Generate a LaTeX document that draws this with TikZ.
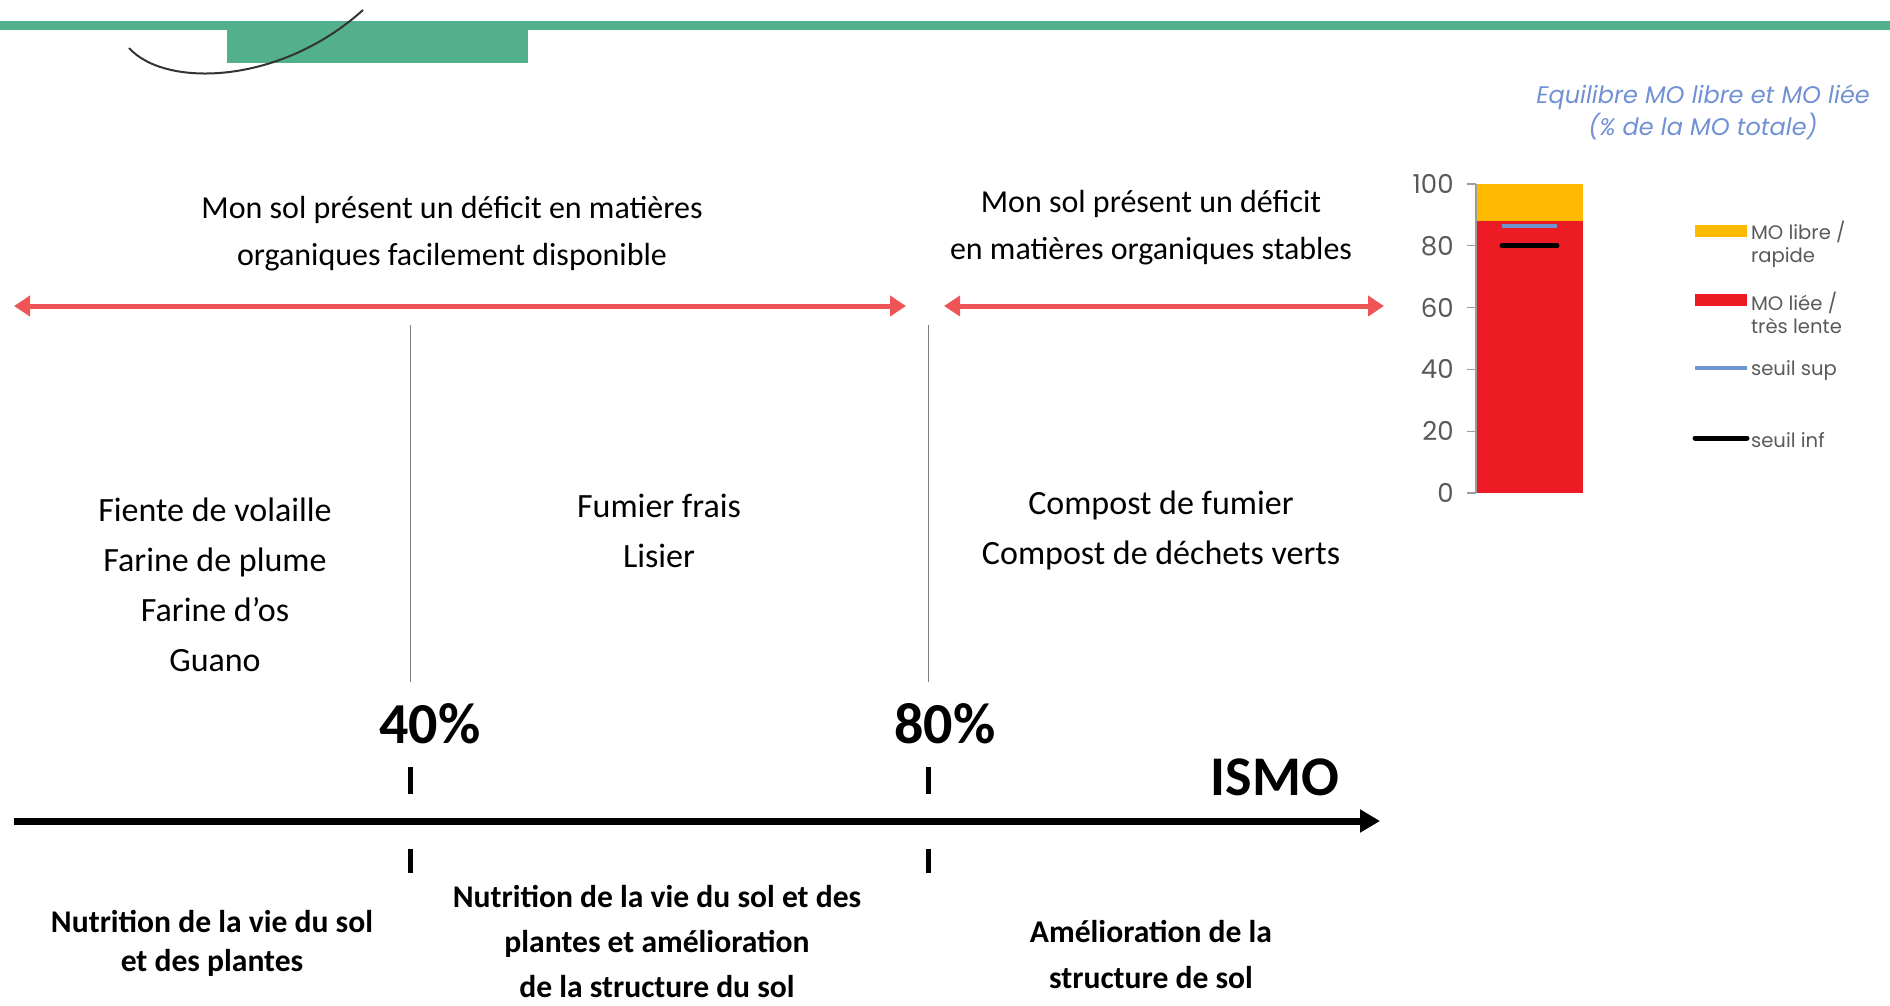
\documentclass[tikz,border=0pt]{standalone}
\usepackage{fontspec}
\setmainfont{Carlito}
\newfontfamily\chartfont{Poppins}
\usepackage{xcolor}
\usepackage{tikz}
\usetikzlibrary{arrows.meta}

\definecolor{bandgreen}{HTML}{52B18C}
\definecolor{arrowred}{HTML}{EF5556}
\definecolor{barred}{HTML}{ED1C24}
\definecolor{baryellow}{HTML}{FFB900}
\definecolor{seuilblue}{HTML}{7094D0}
\definecolor{titleblue}{HTML}{7191D4}
\definecolor{axisgray}{HTML}{595959}

\begin{document}
\begin{tikzpicture}[x=0.5pt, y=-0.5pt,
    deficit/.style={align=center, font=\fontsize{16}{23.5}\selectfont},
    produit/.style={align=center, font=\fontsize{17}{25}\selectfont},
    role/.style={align=center, font=\bfseries\fontsize{15.8}{23}\selectfont},
    pct/.style={font=\bfseries\fontsize{29}{30}\selectfont},
    repere/.style={line width=2.5pt},
    separation/.style={gray, line width=0.5pt},
    redarrow/.style={arrowred, line width=2.5pt,
        {Triangle[length=8pt,width=10pt]}-{Triangle[length=8pt,width=10pt]}},
    legende/.style={anchor=west, align=left, text=axisgray,
        font=\chartfont\fontsize{9.8}{11.5}\selectfont}
]
    \useasboundingbox (0,0) rectangle (1890,1006);

    % 1. bandeau vert et trait courbe en haut a gauche
    \fill[bandgreen] (0,21) rectangle (1890,30);
    \fill[bandgreen] (227,29) rectangle (528,63);
    \draw[black!80, line width=1pt] (129,48) .. controls (165,88) and (280,85) .. (363,10);

    % 2. fleches rouges des deficits
    \coordinate (defA1) at (14,306);
    \coordinate (defA2) at (906,306);
    \coordinate (defB1) at (944,306);
    \coordinate (defB2) at (1384,306);
    \draw[redarrow] (defA1) -- (defA2);
    \draw[redarrow] (defB1) -- (defB2);

    \node (deficitA) at (452,234) [deficit] {Mon sol présent un déficit en matières\\organiques facilement disponible};
    \node (deficitB) at (1151,228) [deficit] {Mon sol présent un déficit\\en matières organiques stables};

    % 3. lignes de separation
    \coordinate (sepA1) at (410,325);
    \coordinate (sepA2) at (410,682);
    \coordinate (sepB1) at (928,325);
    \coordinate (sepB2) at (928,682);
    \draw[separation] (sepA1) -- (sepA2);
    \draw[separation] (sepB1) -- (sepB2);

    % 4. produits organiques
    \node (produitA) at (215,585) [produit] {Fiente de volaille\\Farine de plume\\Farine d'os\\Guano};
    \node (produitB) at (659,531) [produit] {Fumier frais\\Lisier};
    \node (produitC) at (1161,530) [produit] {Compost de fumier\\Compost de déchets verts};

    % 5. axe ISMO avec les seuils
    \coordinate (axeG) at (14,821);
    \coordinate (axeD) at (1380,821);
    \draw[line width=3.5pt, -{Triangle[length=10pt,width=11pt]}] (axeG) -- (axeD);

    \foreach \xs/\nom in {410/quarante, 928/quatrevingt} {
        \coordinate (\nom H1) at (\xs,767);
        \coordinate (\nom H2) at (\xs,794);
        \coordinate (\nom B1) at (\xs,849);
        \coordinate (\nom B2) at (\xs,873);
        \draw[repere] (\nom H1) -- (\nom H2);
        \draw[repere] (\nom B1) -- (\nom B2);
    }

    \node (p40) at (430,724) [pct] {40\%};
    \node (p80) at (945,724) [pct] {80\%};
    \node (ismo) at (1275,777) [font=\bfseries\fontsize{28}{30}\selectfont] {ISMO};

    % 6. roles de la matiere organique
    \node (roleA) at (212,943) [role, font=\bfseries\fontsize{15.8}{19.5}\selectfont] {Nutrition de la vie du sol\\et des plantes};
    \node (roleB) at (657,941) [role, font=\bfseries\fontsize{15.8}{22.5}\selectfont] {Nutrition de la vie du sol et des\\plantes et amélioration\\de la structure du sol};
    \node (roleC) at (1151,954) [role] {Amélioration de la\\structure de sol};

    % 7. graphique MO libre / MO liee
    \node (titre) at (1703,112) [align=center, text=titleblue,
        font=\chartfont\itshape\fontsize{12}{16}\selectfont] {Equilibre MO libre et MO liée\\(\% de la MO totale)};

    \begin{scope}[shift={(1476,493)}, y=1.545pt]
        \fill[barred] (0,0) rectangle (107,88);
        \fill[baryellow] (0,88) rectangle (107,100);
        \draw[axisgray!60, line width=0.6pt] (0,0) -- (0,100);
        \foreach \v in {0,20,...,100} {
            \draw[axisgray!60, line width=0.6pt] (-9,\v) -- (0,\v);
            \node (graduation\v) at (-22,\v) [anchor=east, inner sep=0pt, text=axisgray,
                font=\chartfont\fontsize{13}{14}\selectfont] {\v};
        }
        \draw[seuilblue, line width=2pt] (26,86.5) -- (81,86.5);
        \draw[black, line width=2.5pt, line cap=round] (26,80) -- (81,80);
    \end{scope}

    % legende
    \fill[baryellow] (1695,225) rectangle (1747,237);
    \node (legLibre) at (1744,244) [legende] {MO libre /\\rapide};
    \fill[barred] (1695,294) rectangle (1747,306);
    \node (legLiee) at (1744,313) [legende] {MO liée /\\très lente};
    \draw[seuilblue, line width=2pt] (1695,368) -- (1747,368);
    \node (legSup) at (1744,371) [legende] {seuil sup};
    \draw[black, line width=2.5pt, line cap=round] (1695,438) -- (1747,438);
    \node (legInf) at (1744,440) [legende] {seuil inf};
\end{tikzpicture}
\end{document}
